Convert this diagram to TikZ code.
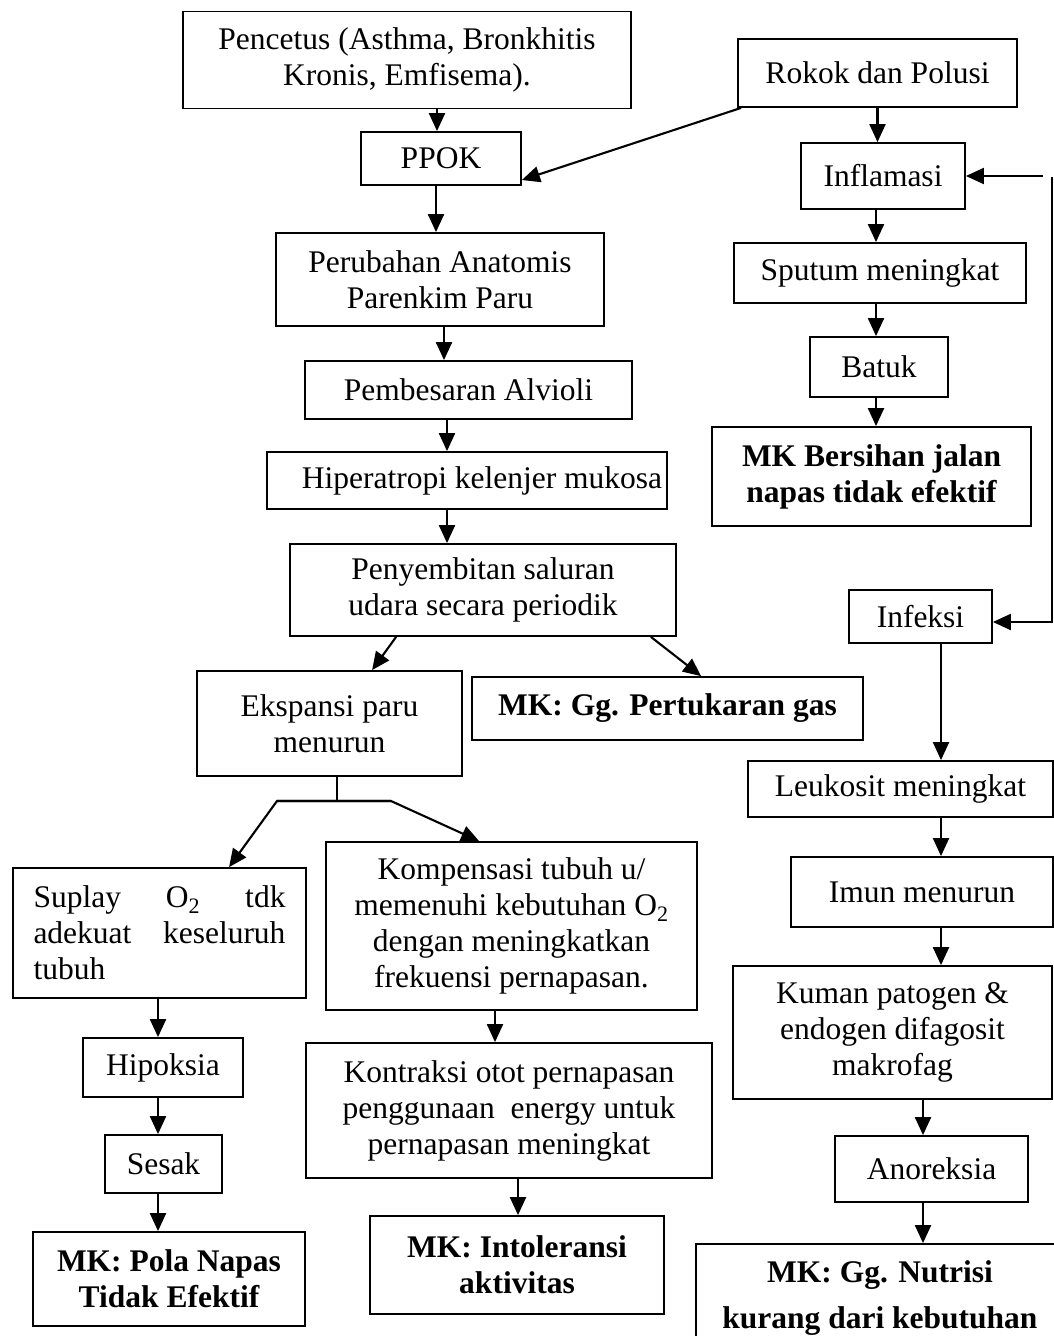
\documentclass[tikz,border=0pt]{standalone}
\usepackage{fontspec}
\setmainfont{Liberation Serif}
\usetikzlibrary{arrows.meta}
\begin{document}
\begin{tikzpicture}[x=1pt,y=-1pt,
  box/.style={draw, line width=1.8pt, inner sep=0pt, align=center,
    font=\fontsize{31.5pt}{36pt}\selectfont},
  mk/.style={box, font=\fontsize{31.5pt}{36pt}\selectfont\bfseries},
  wh/.style 2 args={minimum width=#1pt, minimum height=#2pt},
  arr/.style={line width=2.1pt, -{Triangle[length=18pt,width=16pt]}},
  ln/.style={line width=2.1pt}]
\useasboundingbox (0,0) rectangle (1054,1336);

% ---------- left / centre column ----------
\node[box, wh={448}{97}] (pen) at (407,60) {Pencetus (Asthma, Bronkhitis\\Kronis, Emfisema).};
\node[box, wh={160}{53}] (ppok) at (441,158.5) {PPOK};
\node[box, wh={328}{93}] (perub) at (440,279.5) {Perubahan Anatomis\\Parenkim Paru};
\node[box, wh={327}{58}] (pemb) at (468.5,390) {Pembesaran Alvioli};
\node[box, wh={400}{57}] (hiper) at (467,480.5) {\hspace*{30pt}Hiperatropi kelenjer mukosa};
\node[box, wh={386}{92}] (peny) at (483,590) {Penyembitan saluran\\udara secara periodik};
\node[box, wh={265}{105}] (eks) at (329.5,723.5) {Ekspansi paru\\menurun};
\node[mk, wh={391}{63}] (mkg) at (667.5,708.5) {MK: Gg. Pertukaran gas};
\node[box, wh={293}{130}, align=left] (sup) at (159.5,933)
  {\hbox to 252pt{Suplay\hfill O\textsubscript{2}\hfill tdk}\\\hbox to 252pt{adekuat\hfill keseluruh}\\tubuh};
\node[box, wh={160}{59}] (hipok) at (163,1067.5) {Hipoksia};
\node[box, wh={117}{58}] (sesak) at (163.5,1164) {Sesak};
\node[mk, wh={272}{94}] (mkp) at (169,1279) {MK: Pola Napas\\Tidak Efektif};
\node[box, wh={371}{168}] (komp) at (511.5,926) {Kompensasi tubuh u/\\memenuhi kebutuhan O\textsubscript{2}\\dengan meningkatkan\\frekuensi pernapasan.};
\node[box, wh={406}{135}] (kontr) at (509,1110.5) {Kontraksi otot pernapasan\\penggunaan\ \ energy untuk\\pernapasan meningkat};
\node[mk, wh={294}{98}] (mki) at (517,1265) {MK: Intoleransi\\aktivitas};

% ---------- right column ----------
\node[box, wh={279}{68}] (rokok) at (877.5,73) {Rokok dan Polusi};
\node[box, wh={164}{66}] (infl) at (883,176) {Inflamasi};
\node[box, wh={292}{60}] (sput) at (880,273) {Sputum meningkat};
\node[box, wh={138}{60}] (batuk) at (879,367) {Batuk};
\node[mk, wh={319}{99}] (mkb) at (871.5,476.5) {MK Bersihan jalan\\napas tidak efektif};
\node[box, wh={143}{53}] (infek) at (920.5,616.5) {Infeksi};
\node[box, wh={305}{56}] (leuk) at (900.5,789) {Leukosit meningkat};
\node[box, wh={262}{70}] (imun) at (922,892) {Imun menurun};
\node[box, wh={319}{133}] (kuman) at (892.5,1032.5) {Kuman patogen \&\\endogen difagosit\\makrofag};
\node[box, wh={193}{66}] (anor) at (931.5,1169) {Anoreksia};
\node[mk, wh={368}{108}, font=\fontsize{31.5pt}{46pt}\selectfont\bfseries] (mkn) at (880,1298) {MK: Gg. Nutrisi\\kurang dari kebutuhan};

% ---------- connectors: left ----------
\draw[arr] ([xshift=-4pt]ppok.north |- pen.south) -- ([xshift=-4pt]ppok.north);
\draw[arr] ([xshift=4pt]rokok.south west) -- ([yshift=-21.5pt]ppok.east);
\draw[arr] ([xshift=-5pt]ppok.south) -- ([xshift=-5pt]ppok.south |- perub.north);
\draw[arr] ([xshift=4pt]perub.south) -- ([xshift=4pt]perub.south |- pemb.north);
\draw[arr] ([xshift=-21.5pt]pemb.south) -- ([xshift=-21.5pt]pemb.south |- hiper.north);
\draw[arr] ([xshift=-20pt]hiper.south) -- ([xshift=-20pt]hiper.south |- peny.north);
\draw[arr] ([xshift=107pt]peny.south west) -- ([xshift=176pt]eks.north west);
\draw[arr] ([xshift=-26pt]peny.south east) -- ([xshift=230pt]mkg.north west);

\coordinate (jm) at (337,801);
\coordinate (jl) at (277,801);
\coordinate (jr) at (391,801);
\draw[ln] ([xshift=7.5pt]eks.south) -- (jm);
\draw[arr] (jr) -- (jl) -- ([xshift=217pt]sup.north west);
\draw[arr] (jl) -- (jr) -- ([xshift=154pt]komp.north west);

\draw[arr] ([xshift=-1.5pt]sup.south) -- ([xshift=-1.5pt]sup.south |- hipok.north);
\draw[arr] ([xshift=-5pt]hipok.south) -- ([xshift=-5pt]hipok.south |- sesak.north);
\draw[arr] ([xshift=-5.5pt]sesak.south) -- ([xshift=-5.5pt]sesak.south |- mkp.north);
\draw[arr] ([xshift=-16.5pt]komp.south) -- ([xshift=-16.5pt]komp.south |- kontr.north);
\draw[arr] ([xshift=9pt]kontr.south) -- ([xshift=9pt]kontr.south |- mki.north);

% ---------- connectors: right ----------
\draw[arr] (rokok.south) -- (rokok.south |- infl.north);
\draw[arr] ([xshift=-7pt]infl.south) -- ([xshift=-7pt]infl.south |- sput.north);
\draw[arr] ([xshift=-4pt]sput.south) -- ([xshift=-4pt]sput.south |- batuk.north);
\draw[arr] ([xshift=-3pt]batuk.south) -- ([xshift=-3pt]batuk.south |- mkb.north);

\coordinate (la) at (1043,176);
\coordinate (lt) at (1052,177);
\coordinate (lb) at (1052,622);
\draw[arr] (la) -- (infl.east);
\draw[arr] (lt) -- (lb) -- ([yshift=-5.5pt]infek.east);

\draw[arr] ([xshift=20.5pt]infek.south) -- ([xshift=20.5pt]infek.south |- leuk.north);
\draw[arr] ([xshift=40.5pt]leuk.south) -- ([xshift=40.5pt]leuk.south |- imun.north);
\draw[arr] ([xshift=19pt]imun.south) -- ([xshift=19pt]imun.south |- kuman.north);
\draw[arr] ([xshift=30.5pt]kuman.south) -- ([xshift=30.5pt]kuman.south |- anor.north);
\draw[arr] ([xshift=-8.5pt]anor.south) -- ([xshift=-8.5pt]anor.south |- mkn.north);
\end{tikzpicture}
\end{document}
